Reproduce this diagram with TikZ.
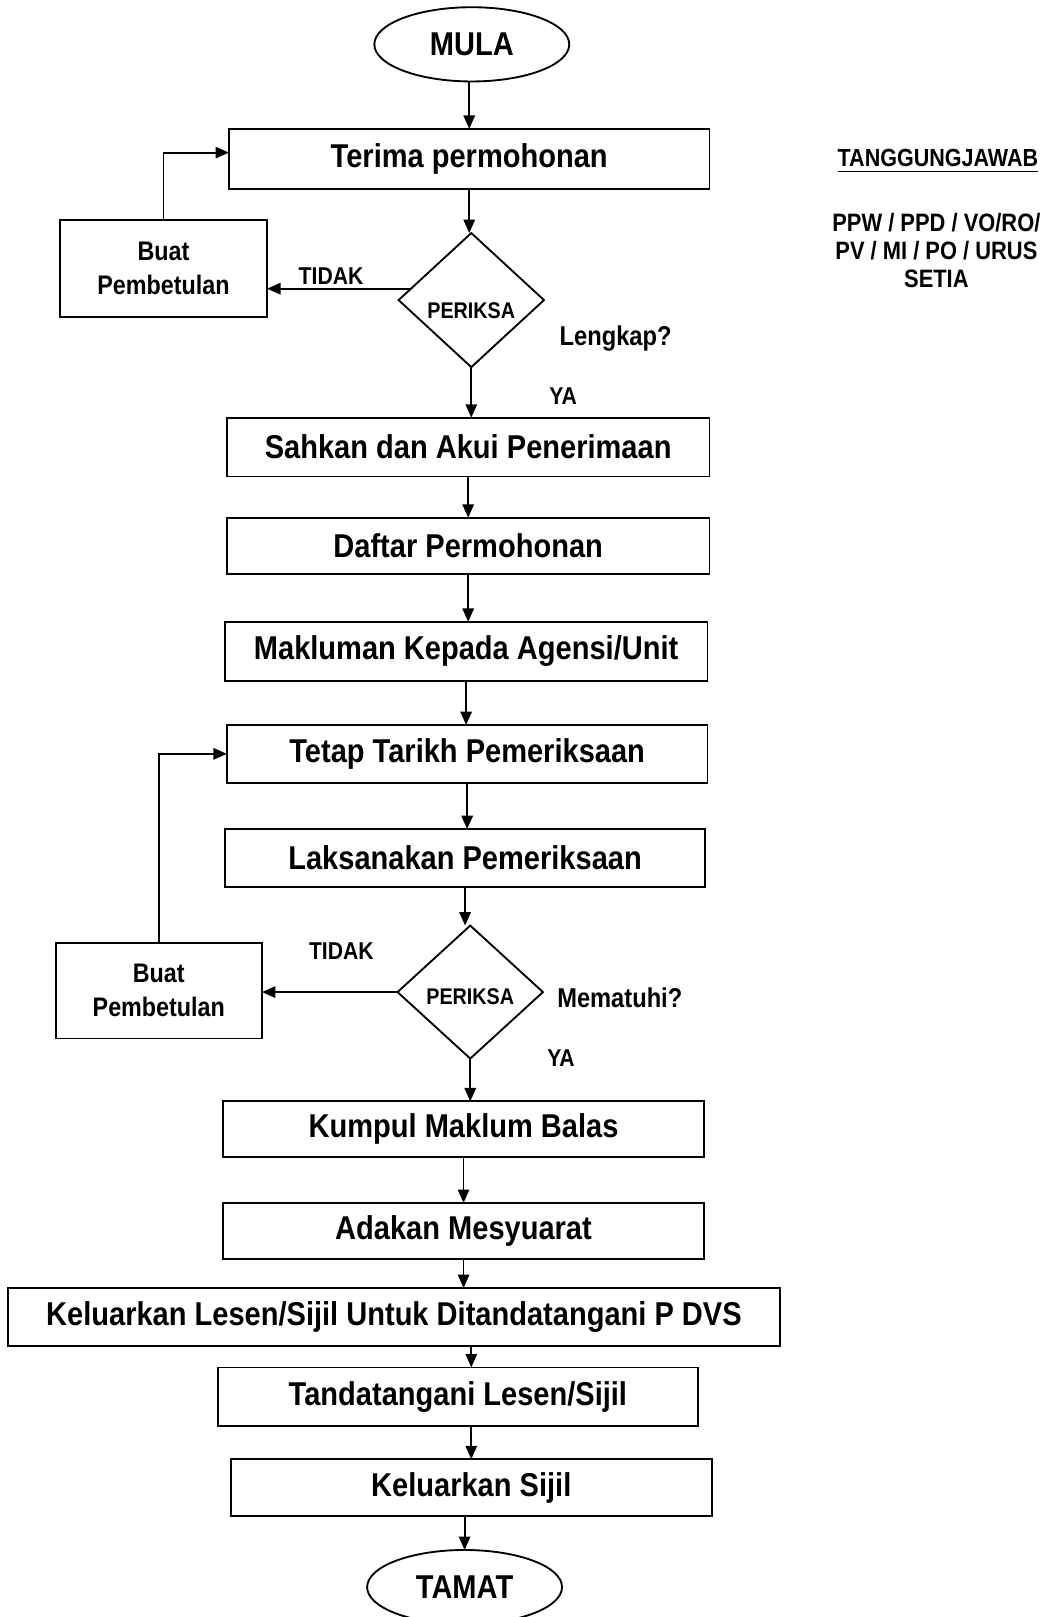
\documentclass[tikz,border=0pt]{standalone}
\usepackage{fontspec}
\setmainfont{Liberation Sans}
\newfontfamily\nfont{Liberation Sans}[FakeStretch=0.87]
\newfontfamily\bxfont{Liberation Sans}[FakeStretch=0.88]
\usetikzlibrary{shapes.geometric,arrows.meta,calc}
\begin{document}
\begin{tikzpicture}[x=0.5pt,y=-0.5pt,
  every node/.style={inner sep=0pt, outer sep=0pt},
  sz/.style 2 args={minimum width=#1*0.5pt, minimum height=#2*0.5pt},
  bx/.style={draw, line width=0.9pt, font=\bxfont\bfseries\fontsize{16}{18}\selectfont},
  term/.style={draw, ellipse, line width=0.9pt, font=\bxfont\bfseries\fontsize{16}{18}\selectfont},
  diam/.style={draw, diamond, line width=0.9pt},
  side/.style={draw, line width=0.9pt, align=center, font=\nfont\bfseries\fontsize{13}{16.5}\selectfont},
  lbl/.style={font=\nfont\bfseries\fontsize{11.8}{14}\selectfont},
  qlbl/.style={font=\nfont\bfseries\fontsize{13.2}{15}\selectfont},
  plbl/.style={font=\nfont\bfseries\fontsize{11}{13}\selectfont},
  arr/.style={line width=0.9pt, -{Triangle[length=6.5pt,width=5.5pt]}}
]
\fill[white] (0,0) rectangle (1014,1568);
\useasboundingbox (0,0) rectangle (1014,1568);

% terminals
\node[term, sz={189}{72}] (mula) at (457.5,43) {MULA};
\node[term, sz={189}{72}] (tamat) at (450.5,1539) {TAMAT};

% process boxes
\node[bx, sz={466}{58}] (terima) at (455,154) {Terima permohonan};
\node[bx, sz={468}{57}] (sahkan) at (454,433.5) {Sahkan dan Akui Penerimaan};
\node[bx, sz={468}{55}] (daftar) at (454,529.5) {Daftar Permohonan};
\node[bx, sz={468}{57}] (maklum) at (452,631.5) {Makluman Kepada Agensi/Unit};
\node[bx, sz={466}{56}] (tetap) at (453,731) {Tetap Tarikh Pemeriksaan};
\node[bx, sz={466}{56}] (laksana) at (451,832) {Laksanakan Pemeriksaan};
\node[bx, sz={467}{54}] (kumpul) at (449.5,1095) {Kumpul Maklum Balas};
\node[bx, sz={467}{54}] (adakan) at (449.5,1193.5) {Adakan Mesyuarat};
\node[bx, sz={748}{56}] (lesen) at (382,1277) {Keluarkan Lesen/Sijil Untuk Ditandatangani P DVS};
\node[bx, sz={466}{57}] (tanda) at (444,1354.5) {Tandatangani Lesen/Sijil};
\node[bx, sz={466}{55}] (sijil) at (457,1442.5) {Keluarkan Sijil};

% decisions
\node[diam, sz={141}{130}, label={[plbl, yshift=-5pt]center:PERIKSA}] (d1) at (457,291) {};
\node[diam, sz={141}{129}, label={[plbl, yshift=-2pt]center:PERIKSA}] (d2) at (456,962) {};

% correction boxes
\node[side, sz={201}{94}] (b1) at (158.5,260) {Buat\\Pembetulan};
\node[side, sz={200}{93}] (b2) at (154,960.5) {Buat\\Pembetulan};

% labels
\node[lbl] (tidak1) at (321,268) {TIDAK};
\node[qlbl] (lengkap) at (597,328) {Lengkap?};
\node[lbl] (ya1) at (546,384) {YA};
\node[lbl] (tidak2) at (331,922) {TIDAK};
\node[qlbl] (patuh) at (601,968) {Mematuhi?};
\node[lbl] (ya2) at (544,1026) {YA};

% responsibility
\node[font=\nfont\bfseries\fontsize{12}{14}\selectfont] (tj) at (909.5,153) {TANGGUNGJAWAB};
\draw[line width=0.8pt] ([yshift=-2.6pt]tj.base west) -- ([yshift=-2.6pt]tj.base east);
\node[align=center, font=\nfont\bfseries\fontsize{12.2}{13.5}\selectfont] (resp) at (908,243) {PPW / PPD / VO/RO/\\PV / MI / PO / URUS\\SETIA};

% main flow
\draw[arr] (mula.south -| terima.north) -- (terima.north);
\draw[arr] (terima.south) -- (terima.south |- d1.north);
\draw[arr] (d1.south) -- (d1.south |- sahkan.north);
\draw[arr] (sahkan.south) -- (sahkan.south |- daftar.north);
\draw[arr] (daftar.south) -- (daftar.south |- maklum.north);
\draw[arr] (maklum.south) -- (maklum.south |- tetap.north);
\draw[arr] (tetap.south) -- (tetap.south |- laksana.north);
\draw[arr] (laksana.south) -- (laksana.south |- d2.north);
\draw[arr] (d2.south) -- (d2.south |- kumpul.north);
\draw[arr] (kumpul.south) -- (kumpul.south |- adakan.north);
\draw[arr] (adakan.south) -- (adakan.south |- lesen.north);
\draw[arr] (lesen.south -| sijil.north) -- (sijil.north |- tanda.north);
\draw[arr] (tanda.south -| sijil.north) -- (sijil.north);
\draw[arr] (sijil.south -| tamat.north) -- (tamat.north);

% NO branches and loops
\draw[arr] ($(d1.west)!0.17!(d1.north)$) coordinate (t1) -- (t1 -| b1.east);
\draw[arr] (b1.north) |- ([yshift=3pt]terima.west);
\draw[arr] (d2.west) -- (d2.west -| b2.east);
\draw[arr] (b2.north) |- (tetap.west);
\end{tikzpicture}
\end{document}
